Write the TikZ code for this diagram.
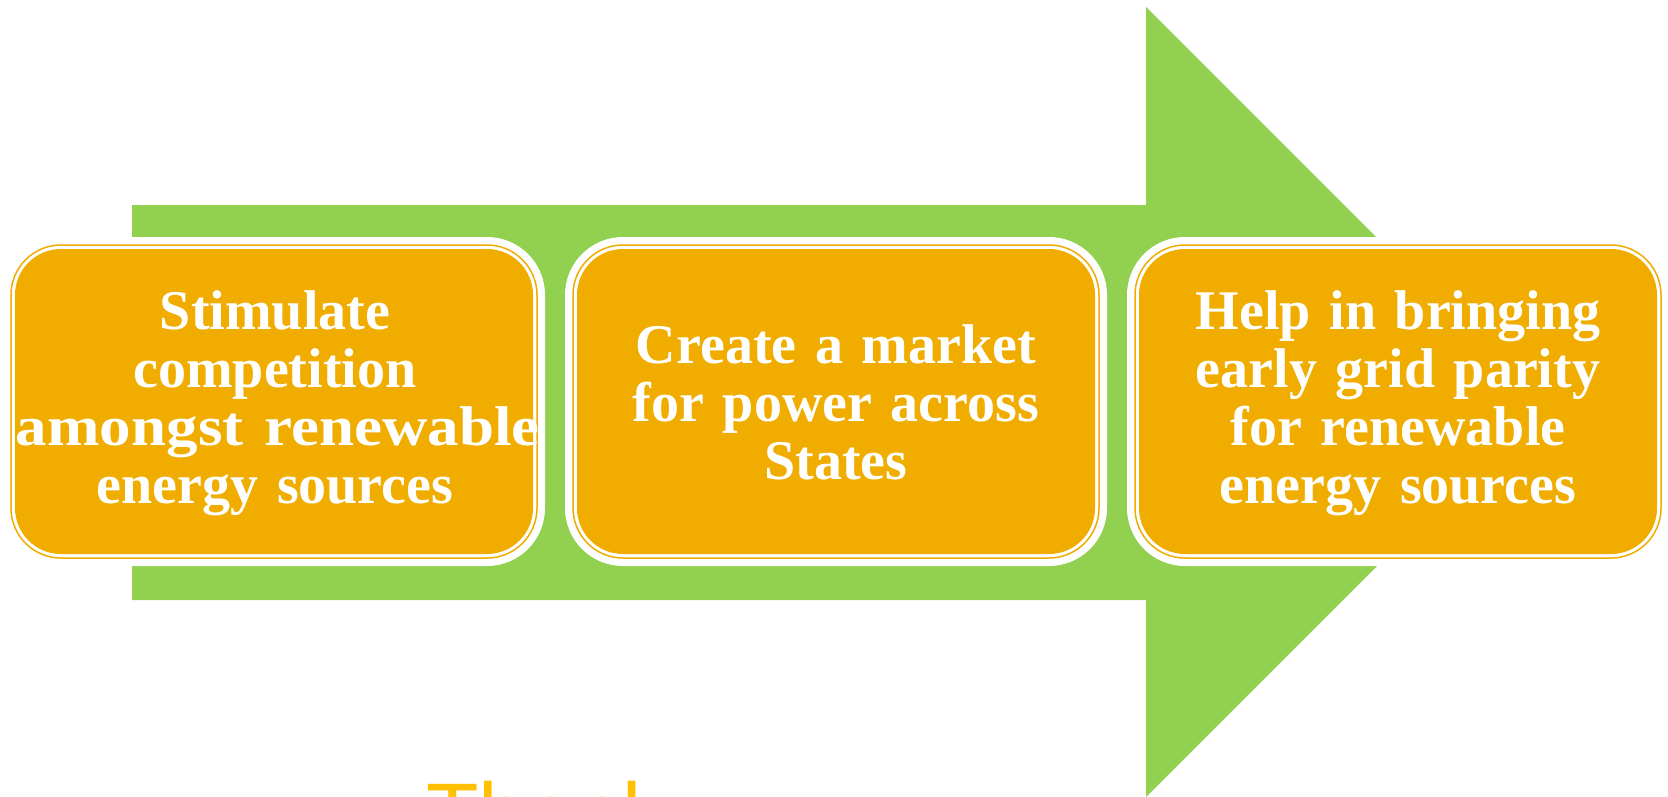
\documentclass[tikz,border=0pt]{standalone}
\usepackage{fontspec}
\setmainfont{Liberation Serif}
\newfontfamily\thanksfont{Liberation Sans}
\definecolor{arrowgreen}{HTML}{92D050}
\definecolor{boxorange}{HTML}{F0AD00}
\definecolor{thanksyellow}{HTML}{FFC000}
\tikzset{
  halo/.style={fill=white, rounded corners=58pt, minimum width=542pt, minimum height=329pt, inner sep=0pt},
  ring/.style={draw=boxorange, line width=1.5pt, fill=white, rounded corners=50pt, minimum width=526pt, minimum height=313pt, inner sep=0pt},
  card/.style={fill=boxorange, rounded corners=46pt, minimum width=518pt, minimum height=305pt, inner sep=0pt},
  cardtext/.style={text=white, text width=518pt, align=center, inner sep=0pt, font=\bfseries\fontsize{56}{58}\selectfont},
}
\begin{document}
\begin{tikzpicture}[x=1pt, y=-1pt]
\useasboundingbox (0,0) rectangle (1668,796);
\clip (0,0) rectangle (1668,796);
\fill[white] (0,0) rectangle (1668,796);
% big arrow
\fill[arrowgreen] (132,205) -- (1146,205) -- (1146,7) -- (1541,402) -- (1146,797) -- (1146,600) -- (132,600) -- cycle;
% boxes
\foreach \cx/\nm in {274/a, 836/b, 1398/c}{
  \node[halo] (halo\nm) at (\cx,401.5) {};
  \node[ring] (ring\nm) at (\cx,401.5) {};
  \node[card] (card\nm) at (\cx,401.5) {};
}
\node[cardtext] (ta) at (275,403) {Stimulate\\competition\\\scalebox{1.125}[1]{amongst renewable}\\energy sources};
\node[cardtext] (tb) at (836,402) {Create a market\\for power across\\States};
\node[cardtext] (tc) at (1398,403) {Help in bringing\\early grid parity\\for renewable\\energy sources};
% partially visible closing text
\node[anchor=base west, inner sep=0pt, text=thanksyellow, font=\thanksfont\fontsize{86}{90}\selectfont] (thanks) at (426,843) {Thank};
\end{tikzpicture}
\end{document}
